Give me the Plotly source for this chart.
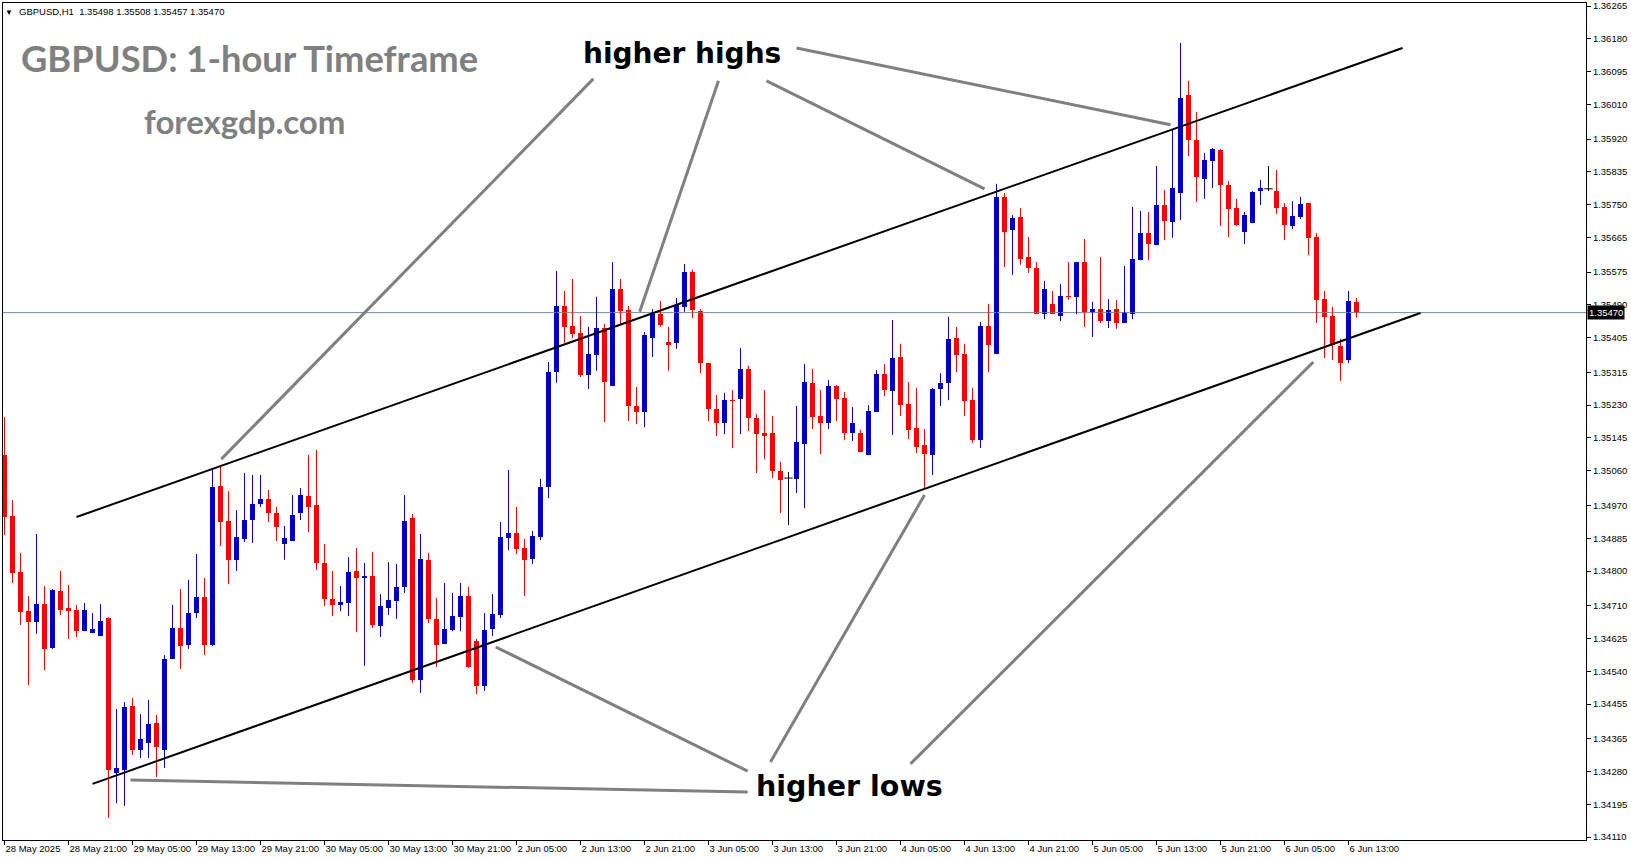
import plotly.graph_objects as go

# ---------------- data ----------------
opens = [1.35101, 1.34943, 1.34797, 1.34696, 1.34668, 1.34714, 1.34600, 1.34748, 1.34704, 1.34699,
         1.34644, 1.34639, 1.34632, 1.34678, 1.34276, 1.34284, 1.34450, 1.34336, 1.34354, 1.34406,
         1.34336, 1.34572, 1.34652, 1.34608, 1.34691, 1.34733, 1.34608, 1.35020, 1.34930, 1.34829,
         1.34883, 1.34932, 1.34974, 1.34987, 1.34950, 1.34870, 1.34878, 1.34950, 1.34995, 1.34971,
         1.34821, 1.34727, 1.34712, 1.34717, 1.34800, 1.34782, 1.34787, 1.34657, 1.34704, 1.34722,
         1.34759, 1.34937, 1.34517, 1.34829, 1.34676, 1.34611, 1.34647, 1.34681, 1.34735, 1.34619,
         1.34502, 1.34650, 1.34686, 1.34886, 1.34899, 1.34860, 1.34831, 1.34888, 1.35018, 1.35316,
         1.35487, 1.35435, 1.35417, 1.35308, 1.35360, 1.35430, 1.35280, 1.35531, 1.35477, 1.35228,
         1.35212, 1.35404, 1.35466, 1.35394, 1.35391, 1.35485, 1.35575, 1.35474, 1.35339, 1.35220,
         1.35184, 1.35243, 1.35246, 1.35324, 1.35197, 1.35158, 1.35158, 1.35059, 1.35041, 1.35039,
         1.35129, 1.35288, 1.35202, 1.35184, 1.35280, 1.35249, 1.35158, 1.35158, 1.35101, 1.35212,
         1.35311, 1.35267, 1.35355, 1.35233, 1.35171, 1.35127, 1.35101, 1.35272, 1.35288, 1.35404,
         1.35363, 1.35243, 1.35140, 1.35435, 1.35363, 1.35770, 1.35684, 1.35718, 1.35614, 1.35586,
         1.35466, 1.35492, 1.35461, 1.35513, 1.35511, 1.35601, 1.35472, 1.35479, 1.35448, 1.35479,
         1.35443, 1.35466, 1.35606, 1.35676, 1.35645, 1.35749, 1.35705, 1.35780, 1.36034, 1.35918,
         1.35817, 1.35863, 1.35892, 1.35801, 1.35741, 1.35679, 1.35702, 1.35785, 1.35791, 1.35785,
         1.35744, 1.35695, 1.35718, 1.35754, 1.35666, 1.35505, 1.35461, 1.35383, 1.35347, 1.35498]

highs = [1.35199, 1.34984, 1.34847, 1.34735, 1.34896, 1.34761, 1.34753, 1.34800, 1.34764, 1.34712,
         1.34717, 1.34691, 1.34714, 1.34680, 1.34442, 1.34460, 1.34471, 1.34429, 1.34466, 1.34427,
         1.34582, 1.34712, 1.34753, 1.34777, 1.34844, 1.34782, 1.35067, 1.35075, 1.35007, 1.34958,
         1.35054, 1.35049, 1.35049, 1.35010, 1.34966, 1.34917, 1.34997, 1.35015, 1.35101, 1.35114,
         1.34870, 1.34800, 1.34761, 1.34836, 1.34860, 1.34821, 1.34849, 1.34740, 1.34823, 1.34818,
         1.34997, 1.34948, 1.34896, 1.34847, 1.34730, 1.34769, 1.34743, 1.34769, 1.34759, 1.34624,
         1.34691, 1.34740, 1.34927, 1.35062, 1.34966, 1.34883, 1.34904, 1.35039, 1.35342, 1.35578,
         1.35526, 1.35557, 1.35461, 1.35433, 1.35511, 1.35441, 1.35601, 1.35557, 1.35487, 1.35277,
         1.35420, 1.35479, 1.35500, 1.35433, 1.35508, 1.35596, 1.35581, 1.35479, 1.35339, 1.35256,
         1.35262, 1.35269, 1.35378, 1.35332, 1.35207, 1.35269, 1.35202, 1.35083, 1.35057, 1.35228,
         1.35337, 1.35324, 1.35269, 1.35295, 1.35282, 1.35264, 1.35225, 1.35166, 1.35230, 1.35321,
         1.35337, 1.35451, 1.35389, 1.35290, 1.35275, 1.35168, 1.35275, 1.35313, 1.35459, 1.35433,
         1.35389, 1.35275, 1.35446, 1.35492, 1.35804, 1.35780, 1.35723, 1.35741, 1.35666, 1.35601,
         1.35552, 1.35526, 1.35544, 1.35601, 1.35601, 1.35661, 1.35498, 1.35614, 1.35505, 1.35503,
         1.35591, 1.35744, 1.35734, 1.35731, 1.35850, 1.35788, 1.35946, 1.36169, 1.36071, 1.35990,
         1.35884, 1.35897, 1.35894, 1.35811, 1.35765, 1.35731, 1.35785, 1.35814, 1.35850, 1.35840,
         1.35754, 1.35759, 1.35770, 1.35754, 1.35676, 1.35526, 1.35485, 1.35402, 1.35526, 1.35508]

lows = [1.34893, 1.34769, 1.34660, 1.34504, 1.34637, 1.34543, 1.34598, 1.34686, 1.34624, 1.34629,
        1.34644, 1.34639, 1.34632, 1.34160, 1.34198, 1.34191, 1.34323, 1.34315, 1.34315, 1.34266,
        1.34289, 1.34572, 1.34546, 1.34598, 1.34678, 1.34582, 1.34606, 1.34865, 1.34766, 1.34800,
        1.34875, 1.34873, 1.34966, 1.34927, 1.34878, 1.34829, 1.34878, 1.34932, 1.34901, 1.34803,
        1.34709, 1.34683, 1.34696, 1.34683, 1.34642, 1.34554, 1.34652, 1.34629, 1.34686, 1.34676,
        1.34743, 1.34510, 1.34484, 1.34665, 1.34551, 1.34611, 1.34644, 1.34644, 1.34549, 1.34481,
        1.34489, 1.34632, 1.34678, 1.34854, 1.34844, 1.34735, 1.34818, 1.34880, 1.34989, 1.35288,
        1.35386, 1.35404, 1.35303, 1.35272, 1.35319, 1.35186, 1.35280, 1.35438, 1.35189, 1.35181,
        1.35173, 1.35355, 1.35433, 1.35319, 1.35376, 1.35472, 1.35456, 1.35313, 1.35189, 1.35150,
        1.35155, 1.35119, 1.35155, 1.35163, 1.35054, 1.35090, 1.35041, 1.34950, 1.34919, 1.35002,
        1.34963, 1.35168, 1.35103, 1.35168, 1.35189, 1.35140, 1.35137, 1.35109, 1.35101, 1.35212,
        1.35254, 1.35153, 1.35202, 1.35142, 1.35106, 1.35013, 1.35049, 1.35228, 1.35243, 1.35316,
        1.35202, 1.35132, 1.35119, 1.35316, 1.35363, 1.35588, 1.35568, 1.35594, 1.35573, 1.35466,
        1.35453, 1.35466, 1.35448, 1.35503, 1.35466, 1.35433, 1.35407, 1.35443, 1.35430, 1.35428,
        1.35443, 1.35453, 1.35606, 1.35606, 1.35645, 1.35658, 1.35664, 1.35710, 1.35876, 1.35757,
        1.35765, 1.35793, 1.35695, 1.35666, 1.35695, 1.35648, 1.35702, 1.35749, 1.35785, 1.35726,
        1.35658, 1.35687, 1.35713, 1.35619, 1.35443, 1.35352, 1.35347, 1.35293, 1.35339, 1.35457]

closes = [1.34940, 1.34795, 1.34694, 1.34668, 1.34714, 1.34598, 1.34751, 1.34699, 1.34696, 1.34644,
          1.34699, 1.34650, 1.34670, 1.34284, 1.34289, 1.34447, 1.34336, 1.34364, 1.34403, 1.34344,
          1.34572, 1.34652, 1.34606, 1.34691, 1.34733, 1.34608, 1.35018, 1.34927, 1.34829, 1.34888,
          1.34932, 1.34974, 1.34987, 1.34950, 1.34914, 1.34886, 1.34945, 1.34997, 1.34966, 1.34821,
          1.34727, 1.34712, 1.34720, 1.34797, 1.34782, 1.34787, 1.34660, 1.34709, 1.34725, 1.34759,
          1.34930, 1.34517, 1.34831, 1.34676, 1.34608, 1.34650, 1.34683, 1.34735, 1.34551, 1.34502,
          1.34647, 1.34689, 1.34888, 1.34899, 1.34857, 1.34829, 1.34891, 1.35018, 1.35316, 1.35487,
          1.35433, 1.35415, 1.35308, 1.35363, 1.35430, 1.35290, 1.35531, 1.35474, 1.35228, 1.35212,
          1.35412, 1.35466, 1.35438, 1.35386, 1.35490, 1.35575, 1.35477, 1.35339, 1.35220, 1.35184,
          1.35243, 1.35241, 1.35324, 1.35197, 1.35155, 1.35150, 1.35059, 1.35036, 1.35041, 1.35135,
          1.35290, 1.35199, 1.35184, 1.35280, 1.35246, 1.35158, 1.35184, 1.35109, 1.35215, 1.35311,
          1.35269, 1.35352, 1.35230, 1.35166, 1.35122, 1.35103, 1.35272, 1.35288, 1.35402, 1.35360,
          1.35241, 1.35140, 1.35435, 1.35386, 1.35770, 1.35679, 1.35715, 1.35609, 1.35586, 1.35466,
          1.35531, 1.35466, 1.35513, 1.35511, 1.35601, 1.35472, 1.35479, 1.35448, 1.35477, 1.35443,
          1.35472, 1.35609, 1.35676, 1.35648, 1.35749, 1.35708, 1.35793, 1.36027, 1.35918, 1.35822,
          1.35866, 1.35894, 1.35801, 1.35739, 1.35697, 1.35723, 1.35783, 1.35793, 1.35791, 1.35741,
          1.35697, 1.35721, 1.35752, 1.35664, 1.35503, 1.35459, 1.35386, 1.35339, 1.35499, 1.35470]

x_tick_labels = ["28 May 2025", "28 May 21:00", "29 May 05:00", "29 May 13:00", "29 May 21:00",
                 "30 May 05:00", "30 May 13:00", "30 May 21:00", "2 Jun 05:00", "2 Jun 13:00",
                 "2 Jun 21:00", "3 Jun 05:00", "3 Jun 13:00", "3 Jun 21:00", "4 Jun 05:00",
                 "4 Jun 13:00", "4 Jun 21:00", "5 Jun 05:00", "5 Jun 13:00", "5 Jun 21:00",
                 "6 Jun 05:00", "6 Jun 13:00"]
bars_per_x_label = 8

y_tick_labels = ["1.36265", "1.36180", "1.36095", "1.36010", "1.35920", "1.35835", "1.35750",
                 "1.35665", "1.35575", "1.35490", "1.35405", "1.35315", "1.35230", "1.35145",
                 "1.35060", "1.34970", "1.34885", "1.34800", "1.34710", "1.34625", "1.34540",
                 "1.34455", "1.34365", "1.34280", "1.34195", "1.34110"]

symbol_name = "GBPUSD,H1"
last_price = 1.35470

# channel trend lines (bar index, price)
upper_channel_x = [9.0, 174.75]
upper_channel_y = [1.34940, 1.36156]
lower_channel_x = [11.0, 177.0]
lower_channel_y = [1.34248, 1.35469]

# pointer lines from the labels to the swing points (bar index, price)
hh_pointer_x = [[73.6, 27.1], [89.25, 79.4], [95.25, 122.5], [99.0, 145.75]]
hh_pointer_y = [[1.36076, 1.35090], [1.36071, 1.35472], [1.36071, 1.35791], [1.36156, 1.35957]]
hl_pointer_x = [[92.9, 61.4], [92.9, 15.75], [95.75, 115.0], [113.25, 163.6]]
hl_pointer_y = [[1.34281, 1.34603], [1.34227, 1.34258], [1.34305, 1.34997], [1.34300, 1.35342]]

# ---------------- styling ----------------
BULL = "#0000CC"
BEAR = "#FF0000"
DOJI = "#000000"
AXIS_FONT = dict(family="Liberation Sans, Arial, sans-serif", size=9.5, color="black")

n = len(opens)
idx = list(range(n))

fig = go.Figure()

# current price line (behind candles)
fig.add_trace(go.Scatter(x=[-1, 300], y=[last_price, last_price], mode="lines",
                         line=dict(color="#778899", width=1), hoverinfo="skip"))

# wicks per colour
for col, cond in [(BULL, lambda o, c: c > o), (BEAR, lambda o, c: c < o), (DOJI, lambda o, c: c == o)]:
    wx, wy = [], []
    for i in idx:
        if cond(opens[i], closes[i]):
            wx += [i, i, None]
            wy += [lows[i], highs[i], None]
    fig.add_trace(go.Scatter(x=wx, y=wy, mode="lines", line=dict(color=col, width=1),
                             hoverinfo="skip"))

# bodies
bx, bbase, bh, bcol = [], [], [], []
dx, dy = [], []
for i in idx:
    o, c = opens[i], closes[i]
    if c == o:
        dx.append(i)
        dy.append(o)
        continue
    bx.append(i)
    bbase.append(min(o, c))
    bh.append(abs(c - o))
    bcol.append(BULL if c > o else BEAR)
fig.add_trace(go.Bar(x=bx, y=bh, base=bbase, width=0.62,
                     marker=dict(color=bcol, line=dict(width=0)), hoverinfo="skip"))
fig.add_trace(go.Scatter(x=dx, y=dy, mode="markers",
                         marker=dict(symbol="line-ew", size=6, line=dict(width=1, color=DOJI)),
                         hoverinfo="skip"))

# channel lines
for xs, ys in [(upper_channel_x, upper_channel_y), (lower_channel_x, lower_channel_y)]:
    fig.add_trace(go.Scatter(x=xs, y=ys, mode="lines", line=dict(color="black", width=2),
                             hoverinfo="skip"))

# pointer lines
for xs_list, ys_list in [(hh_pointer_x, hh_pointer_y), (hl_pointer_x, hl_pointer_y)]:
    for xs, ys in zip(xs_list, ys_list):
        fig.add_trace(go.Scatter(x=xs, y=ys, mode="lines", line=dict(color="#808080", width=3),
                                 hoverinfo="skip"))

x_tick_vals = [k * bars_per_x_label for k in range(len(x_tick_labels))]
y_tick_vals = [float(v) for v in y_tick_labels]

fig.update_layout(
    width=1631, height=861,
    margin=dict(l=3, r=45, t=3, b=21, autoexpand=False),
    plot_bgcolor="white", paper_bgcolor="white",
    showlegend=False, bargap=0,
    xaxis=dict(range=[-0.1875, 197.6875], tickvals=x_tick_vals, ticktext=x_tick_labels,
               ticks="outside", ticklen=4, tickcolor="black", tickwidth=1, tickangle=0,
               ticklabelposition="outside right", tickfont=AXIS_FONT, automargin=False,
               showgrid=False, zeroline=False, showline=True, mirror=True,
               linecolor="black", linewidth=1, fixedrange=True),
    yaxis=dict(range=[1.341025, 1.362728], side="right", tickvals=y_tick_vals,
               ticktext=y_tick_labels, ticks="outside", ticklen=4, tickcolor="black",
               tickwidth=1, tickfont=AXIS_FONT, showgrid=False, zeroline=False, automargin=False,
               showline=True, mirror=True, linecolor="black", linewidth=1, fixedrange=True),
)

header = f"{symbol_name}\u00a0 {opens[-1]:.5f} {highs[-1]:.5f} {lows[-1]:.5f} {closes[-1]:.5f}"

ann = [
    dict(text="\u25bc", x=0, y=1, xref="paper", yref="paper", xanchor="center", yanchor="middle",
         xshift=6, yshift=-8, showarrow=False, font=dict(size=8, color="black")),
    dict(text=header, x=0, y=1, xref="paper", yref="paper", xanchor="left", yanchor="middle",
         xshift=14, yshift=-8, showarrow=False, font=AXIS_FONT),
    dict(text="<b>GBPUSD: 1-hour Timeframe</b>", x=0, y=1, xref="paper", yref="paper",
         xanchor="left", yanchor="middle", xshift=16, yshift=-55, showarrow=False,
         font=dict(family="Lato, sans-serif", size=36.3, color="#808080")),
    dict(text="<b>forexgdp.com</b>", x=0, y=1, xref="paper", yref="paper",
         xanchor="left", yanchor="middle", xshift=139, yshift=-118, showarrow=False,
         font=dict(family="Lato, sans-serif", size=33, color="#808080")),
    dict(text="<b>higher highs</b>", x=0, y=1, xref="paper", yref="paper",
         xanchor="center", yanchor="middle", xshift=679, yshift=-50, showarrow=False,
         font=dict(family="DejaVu Sans, sans-serif", size=28, color="black")),
    dict(text="<b>higher lows</b>", x=0, y=1, xref="paper", yref="paper",
         xanchor="center", yanchor="middle", xshift=846, yshift=-783, showarrow=False,
         font=dict(family="DejaVu Sans, sans-serif", size=28.5, color="black")),
    dict(text=f"{last_price:.5f}", x=1, y=last_price, xref="paper", yref="y",
         xanchor="left", yanchor="middle", xshift=1, showarrow=False, bgcolor="black",
         borderpad=1, font=dict(family="Liberation Sans, Arial, sans-serif", size=9.5, color="white")),
]
fig.update_layout(annotations=ann)

fig.write_html("out.html", config={"displayModeBar": False},
               post_script="document.body.style.margin='0px';document.body.style.overflow='hidden';")
